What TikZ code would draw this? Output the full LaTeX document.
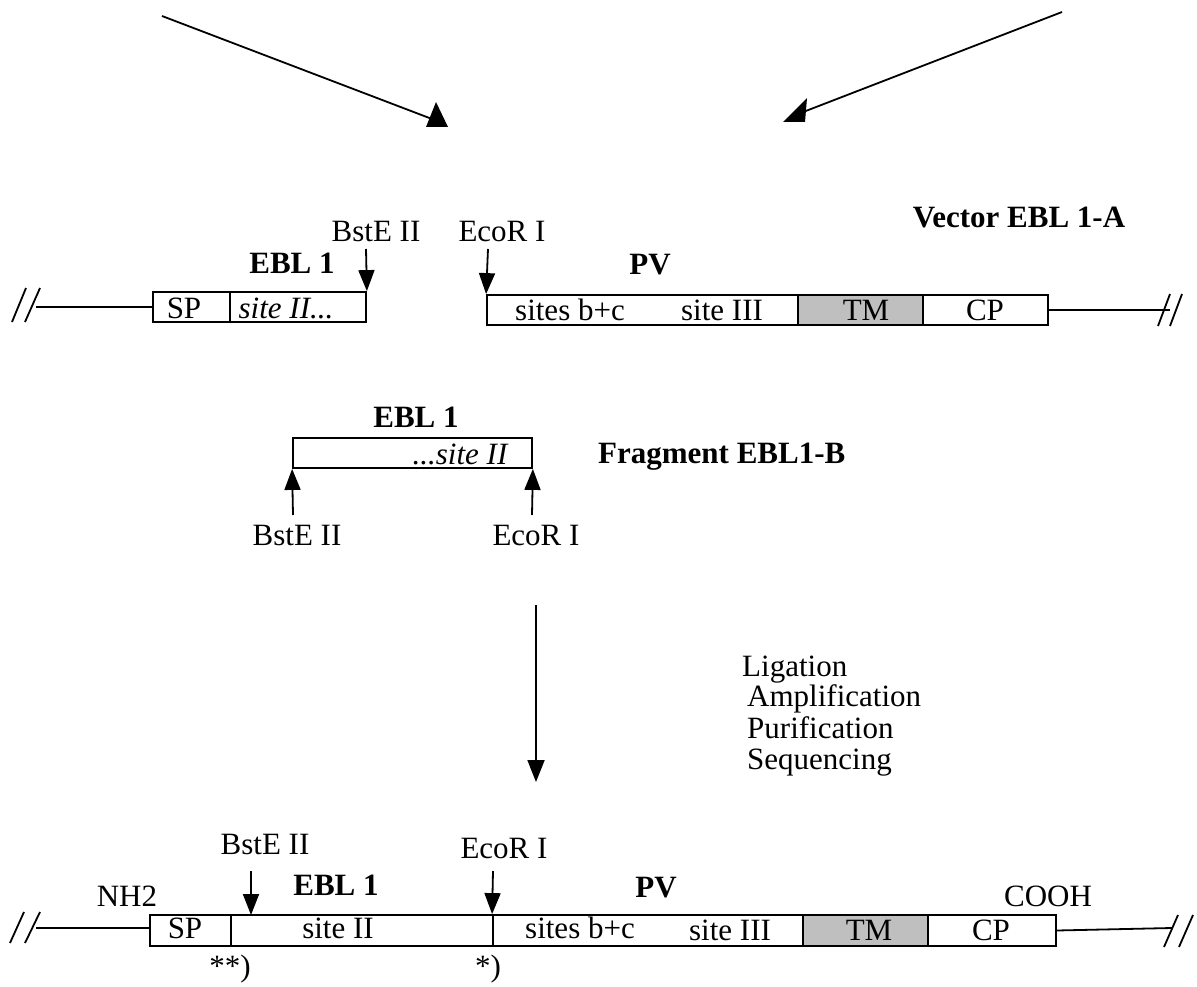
\documentclass[tikz,border=0pt]{standalone}
\usepackage{fontspec}
\setmainfont{Liberation Serif}
\usetikzlibrary{arrows.meta}
\begin{document}
\begin{tikzpicture}[x=1pt,y=-1pt,
  every node/.style={font=\fontsize{31}{33}\selectfont, inner sep=0pt},
  lbl/.style={anchor=base},
  bld/.style={anchor=base, font=\fontsize{31}{33}\selectfont\bfseries},
  seg/.style={draw, line width=1.8pt, minimum height=30, fill=white},
  gseg/.style={seg, fill=gray!50},
  cut/.style={line width=1.8pt, -{Triangle[length=21pt,width=16pt]}},
  big/.style={line width=1.8pt, -{Triangle[length=22pt,width=17pt]}},
  strand/.style={line width=1.8pt},
  brk/.style={line width=1.8pt},
  line/.style={line width=1.8pt}]
\useasboundingbox (0,0) rectangle (1197,987);

% top converging arrows (tips drawn as upright filled triangles, as in the original)
\coordinate (tl) at (162,16);
\coordinate (tle) at (432,119);
\coordinate (tr) at (1062,12);
\coordinate (tre) at (798,114);
\draw[line] (tl) -- (tle);
\draw[line] (tr) -- (tre);
\fill (tle) ++(-6,8) -- ++(22,0) -- ++(-12,-25) -- cycle;
\fill (tre) ++(-15,8) -- ++(22,0) -- ++(2,-24) -- cycle;

% ---------- Row 1: Vector EBL 1-A ----------
\node[bld] (vec) at (1019,228) {Vector EBL 1-A};
\node[seg, minimum width=77] (sp1) at (191.5,307) {};
\node[seg, minimum width=136] (s21) at (298,307) {};
\node[lbl] (sp1t) at (184,318) {SP};
\node[lbl, font=\fontsize{31}{33}\selectfont\itshape] (s21t) at (286,318) {site II...};
\node[bld] (ebl1) at (292,273) {EBL 1};
\node[lbl] (bst1) at (376,242) {BstE II};
\coordinate (bst1a) at (366,249);
\draw[cut] (bst1a) -- (s21.north east);
\node[lbl] (eco1) at (502,242) {EcoR I};

\node[seg, minimum width=311] (pva1) at (642.5,310) {};
\node[gseg, minimum width=125] (tm1) at (860.5,310) {};
\node[seg, minimum width=125] (cp1) at (985.5,310) {};
\node[lbl] (sbc1) at (570,320) {sites b+c};
\node[lbl] (s31) at (722,320) {site III};
\node[lbl] (tm1t) at (866,320) {TM};
\node[lbl] (cp1t) at (985,320) {CP};
\node[bld] (pv1) at (650,275) {PV};
\coordinate (eco1a) at (488,249);
\draw[cut] (eco1a) -- (pva1.north west);

% strands and breaks row 1
\coordinate (l1a) at (36,307);
\draw[strand] (l1a) -- (sp1.west |- l1a);
\coordinate (l1b) at (12,322); \coordinate (l1c) at (26,288);
\coordinate (l1d) at (25,322); \coordinate (l1e) at (40,288);
\draw[brk] (l1b) -- (l1c); \draw[brk] (l1d) -- (l1e);
\coordinate (r1a) at (1170,310);
\draw[strand] (cp1.east) -- (r1a);
\coordinate (r1b) at (1158,326); \coordinate (r1c) at (1170,294);
\coordinate (r1d) at (1170,326); \coordinate (r1e) at (1182,294);
\draw[brk] (r1b) -- (r1c); \draw[brk] (r1d) -- (r1e);

% ---------- Fragment EBL1-B ----------
\node[seg, minimum width=239] (frag) at (412.5,453) {};
\node[lbl, font=\fontsize{31}{33}\selectfont\itshape] (fragt) at (460,464) {...site II};
\node[bld] (ebl2) at (416,427) {EBL 1};
\node[bld, anchor=base west] (fragn) at (598,463) {Fragment EBL1-B};
\node[lbl] (bst2) at (297,545) {BstE II};
\node[lbl] (eco2) at (536,545) {EcoR I};
\coordinate (bst2a) at (293,515);
\coordinate (eco2a) at (532,515);
\draw[cut] (bst2a) -- (frag.south west);
\draw[cut] (eco2a) -- (frag.south east);

% ---------- middle arrow and steps ----------
\coordinate (ma) at (536,605);
\coordinate (mb) at (536,782);
\draw[big] (ma) -- (mb);
\node[anchor=base west] (st1) at (742,676) {Ligation};
\node[anchor=base west] (st2) at (747,706) {Amplification};
\node[anchor=base west] (st3) at (747,738) {Purification};
\node[anchor=base west] (st4) at (747,769) {Sequencing};

% ---------- Bottom row: construct ----------
\node[seg, minimum width=81, minimum height=31] (sp3) at (190.5,930.5) {};
\node[seg, minimum width=262, minimum height=31] (s23) at (362,930.5) {};
\node[seg, minimum width=310, minimum height=31] (pva3) at (648,930.5) {};
\node[gseg, minimum width=125, minimum height=31] (tm3) at (865.5,930.5) {};
\node[seg, minimum width=128, minimum height=31] (cp3) at (992,930.5) {};
\node[lbl] (sp3t) at (185,938) {SP};
\node[lbl] (s23t) at (338,938) {site II};
\node[lbl] (sbc3t) at (580,938) {sites b+c};
\node[lbl] (s33t) at (730,940) {site III};
\node[lbl] (tm3t) at (869,940) {TM};
\node[lbl] (cp3t) at (991,940) {CP};
\node[lbl] (nh2) at (127,906) {NH2};
\node[lbl] (cooh) at (1048,906) {COOH};
\node[bld] (ebl3) at (336,895) {EBL 1};
\node[bld] (pv3) at (656,897) {PV};
\node[lbl] (bst3) at (265,854) {BstE II};
\node[lbl] (eco3) at (504,858) {EcoR I};
\coordinate (bst3a) at (251,871);
\coordinate (bst3b) at (251,915);
\draw[cut] (bst3a) -- (bst3b);
\coordinate (eco3a) at (493,871);
\draw[cut] (eco3a) -- (pva3.north west);
\node[lbl] (n2) at (230,976) {**)};
\node[lbl] (n1) at (488,976) {*)};

\coordinate (l3a) at (36,928);
\draw[strand] (l3a) -- (sp3.west |- l3a);
\coordinate (l3b) at (10,943); \coordinate (l3c) at (24,912);
\coordinate (l3d) at (25,943); \coordinate (l3e) at (40,912);
\draw[brk] (l3b) -- (l3c); \draw[brk] (l3d) -- (l3e);
\coordinate (r3a) at (1172,928);
\draw[strand] (cp3.east) -- (r3a);
\coordinate (r3b) at (1164,947); \coordinate (r3c) at (1178,915);
\coordinate (r3d) at (1179,947); \coordinate (r3e) at (1193,915);
\draw[brk] (r3b) -- (r3c); \draw[brk] (r3d) -- (r3e);
\end{tikzpicture}
\end{document}
